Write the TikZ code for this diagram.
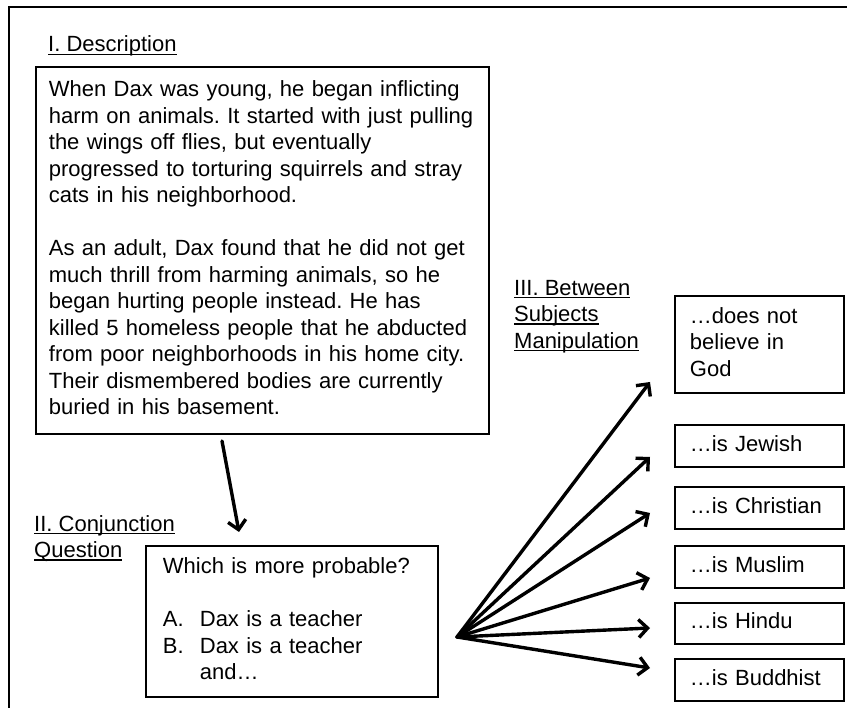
\documentclass[tikz,border=0pt]{standalone}
\usepackage{fontspec}
\setmainfont{Liberation Sans}
\usetikzlibrary{arrows.meta}
\frenchspacing
\newcommand\ulword[1]{\setbox0=\hbox{#1}\rlap{\rule[-3pt]{\wd0}{1.4pt}}\box0}
\begin{document}
\begin{tikzpicture}[x=1pt,y=-1pt,
  txt/.style={font=\fontsize{22}{26.5}\selectfont, inner sep=0pt},
  box/.style={draw, line width=1.8pt, rectangle, anchor=north west,
    font=\fontsize{22}{26.5}\selectfont, align=left, inner ysep=0pt},
  rbox/.style={box, minimum width=169pt, text width=139pt, inner xsep=15pt, minimum height=42pt},
  arr/.style={line width=3.4pt, line cap=round, -{Straight Barb[length=9pt,width=18pt]}}]
\useasboundingbox (0,0) rectangle (847,708);
\draw[line width=2.2pt] (9,712) -- (9,7) -- (850,7);

\node[txt, anchor=base west] (h1) at (48,52) {\ulword{I. Description}};

\node[box, minimum width=453pt, minimum height=367pt, text width=427pt, inner xsep=13pt] (desc) at (35,66)
{\strut\mbox{When Dax was young, he began inflicting}\\
\mbox{harm on animals. It started with just pulling}\\
\mbox{the wings off flies, but eventually}\\
\mbox{progressed to torturing squirrels and stray}\\
\mbox{cats in his neighborhood.}\\[26.5pt]
\mbox{As an adult, Dax found that he did not get}\\
\mbox{much thrill from harming animals, so he}\\
\mbox{began hurting people instead. He has}\\
\mbox{killed 5 homeless people that he abducted}\\
\mbox{from poor neighborhoods in his home city.}\\
\mbox{Their dismembered bodies are currently}\\
\mbox{buried in his basement.}\strut};

\node[txt, anchor=north west, align=left] (h2) at (34,512.5)
{\strut\ulword{II. Conjunction}\\\ulword{Question}};

\node[box, minimum width=292pt, minimum height=151pt, text width=258pt, inner xsep=17pt] (q) at (145,545)
{\strut Which is more probable?\\[26.5pt]
\makebox[37pt][l]{A.}Dax is a teacher\\
\makebox[37pt][l]{B.}Dax is a teacher\\
\hspace*{37pt}and…\strut};

\node[txt, anchor=north west, align=left] (h3) at (514,276.5)
{\strut\ulword{III. Between}\\\ulword{Subjects}\\\ulword{Manipulation}};

\node[rbox, minimum height=97pt] (god) at (674,295) {\strut…does not\\believe in\\God\strut};
\node[rbox] (jew) at (674,424) {\strut\mbox{…is Jewish}\strut};
\node[rbox] (chr) at (674,486) {\strut\mbox{…is Christian}\strut};
\node[rbox] (mus) at (674,545) {\strut\mbox{…is Muslim}\strut};
\node[rbox, minimum height=41pt] (hin) at (674,602) {\strut\mbox{…is Hindu}\strut};
\node[rbox] (bud) at (674,658) {\strut\mbox{…is Buddhist}\strut};

\coordinate (a1) at (222,441);
\coordinate (a2) at (239,532);
\draw[arr] (a1) -- (a2);

\coordinate (fan) at (457,637);
\coordinate (t1) at (650,382);
\coordinate (t2) at (650,457);
\coordinate (t3) at (650,513);
\coordinate (t4) at (650,578);
\coordinate (t5) at (650,628);
\coordinate (t6) at (650,668);
\foreach \t in {t1,t2,t3,t4,t5,t6} \draw[arr] (fan) -- (\t);
\end{tikzpicture}
\end{document}
